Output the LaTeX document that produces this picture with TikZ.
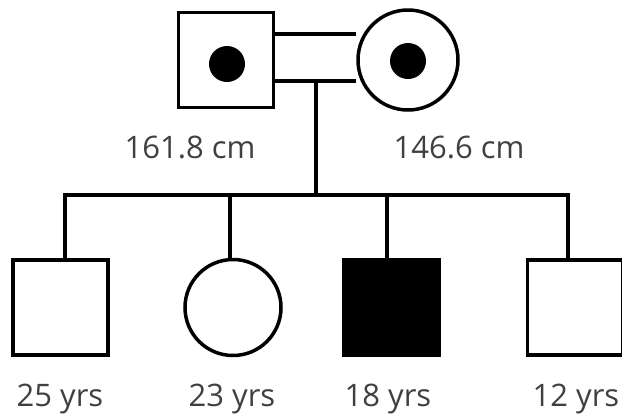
\documentclass[tikz,border=0pt]{standalone}
\usepackage{fontspec}
\setmainfont{Open Sans}
\definecolor{txt}{HTML}{404040}
\begin{document}
\begin{tikzpicture}[x=1pt,y=-1pt,
  ln/.style={line width=3.5pt},
  male/.style={draw,line width=3.5pt,rectangle,minimum width=95pt,minimum height=95pt,inner sep=0pt},
  female/.style={draw,line width=3.5pt,circle,minimum size=#1,inner sep=0pt},
  dotmark/.style={circle,fill=black,minimum size=36pt,inner sep=0pt},
  lbl/.style={text=txt,font=\fontsize{31}{36}\selectfont,inner sep=0pt,anchor=base}]
\useasboundingbox (0,0) rectangle (622,416);
% parents
\node[male] (f) at (226,60) {};
\node[female=100pt] (m) at (408,60) {};
\node[dotmark] (fd) at (227,64) {};
\node[dotmark] (md) at (408,61) {};
\draw[ln] ([yshift=26pt]f.east) -- ([yshift=26pt]m.west);
\draw[ln] ([yshift=-21pt]f.east) -- ([yshift=-21pt]m.west);
\coordinate (d) at (316,81);
\coordinate (s) at (316,195);
\draw[ln] (d) -- (s);
% children
\node[male] (c1) at (60.5,307.5) {};
\node[female=96pt] (c2) at (233,307.5) {};
\node[male,fill=black] (c3) at (391.5,307.5) {};
\node[male] (c4) at (575,307.5) {};
\coordinate (s1) at (65,195);
\coordinate (s2) at (230,195);
\coordinate (s3) at (387,195);
\coordinate (s4) at (568,195);
\draw[ln,line cap=rect] (s1) -- (s4);
\draw[ln] (s1) -- (s1 |- c1.north);
\draw[ln] (s2) -- (s2 |- c2.north);
\draw[ln] (s3) -- (s3 |- c3.north);
\draw[ln] (s4) -- (s4 |- c4.north);
% labels
\node[lbl] (l1) at (190,158) {161.8 cm};
\node[lbl] (l2) at (459,158) {146.6 cm};
\node[lbl] (a1) at (60,406) {25 yrs};
\node[lbl] (a2) at (232,406) {23 yrs};
\node[lbl] (a3) at (388,406) {18 yrs};
\node[lbl] (a4) at (576,406) {12 yrs};
\end{tikzpicture}
\end{document}
